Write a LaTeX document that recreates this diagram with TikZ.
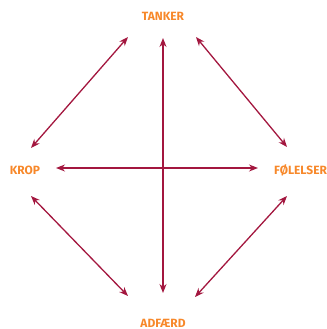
\documentclass[tikz,border=0pt]{standalone}
\usepackage{fontspec}
\setmainfont{Fira Sans}
\usepackage{xcolor}
\usetikzlibrary{arrows.meta}
\definecolor{labelorange}{HTML}{F7882A}
\definecolor{arrowred}{HTML}{A3173F}
\tikzset{word/.style = {text=labelorange, font=\bfseries\fontsize{12}{14}\selectfont,
                        inner sep=0pt},
         link/.style = {draw=arrowred, line width=1.3bp,
                        {Stealth[length=9bp,width=7bp]}-{Stealth[length=9bp,width=7bp]}}}
\begin{document}
\begin{tikzpicture}[x=1bp, y=-1bp]
\useasboundingbox (0,0) rectangle (327,329);
\node[word] (tanker) at (163,16) {TANKER};
\node[word] (krop) at (25,170) {KROP};
\node[word, anchor=west] (foelelser) at (274,170) {FØLELSER};
\node[word] (adfaerd) at (163,323) {ADFÆRD};
% arrow ends
\coordinate (t-s) at (163,38);
\coordinate (a-n) at (163,293);
\coordinate (k-e) at (56,168);
\coordinate (f-w) at (258,168);
\coordinate (t-sw) at (128,37);
\coordinate (k-ne) at (31,148);
\coordinate (t-se) at (196,37);
\coordinate (f-nw) at (287,147);
\coordinate (k-se) at (31,196);
\coordinate (a-nw) at (128,296);
\coordinate (f-sw) at (287,196);
\coordinate (a-ne) at (195,297);
\draw[link] (t-s) -- (a-n);
\draw[link] (k-e) -- (f-w);
\draw[link] (t-sw) -- (k-ne);
\draw[link] (t-se) -- (f-nw);
\draw[link] (k-se) -- (a-nw);
\draw[link] (f-sw) -- (a-ne);
\end{tikzpicture}
\end{document}
